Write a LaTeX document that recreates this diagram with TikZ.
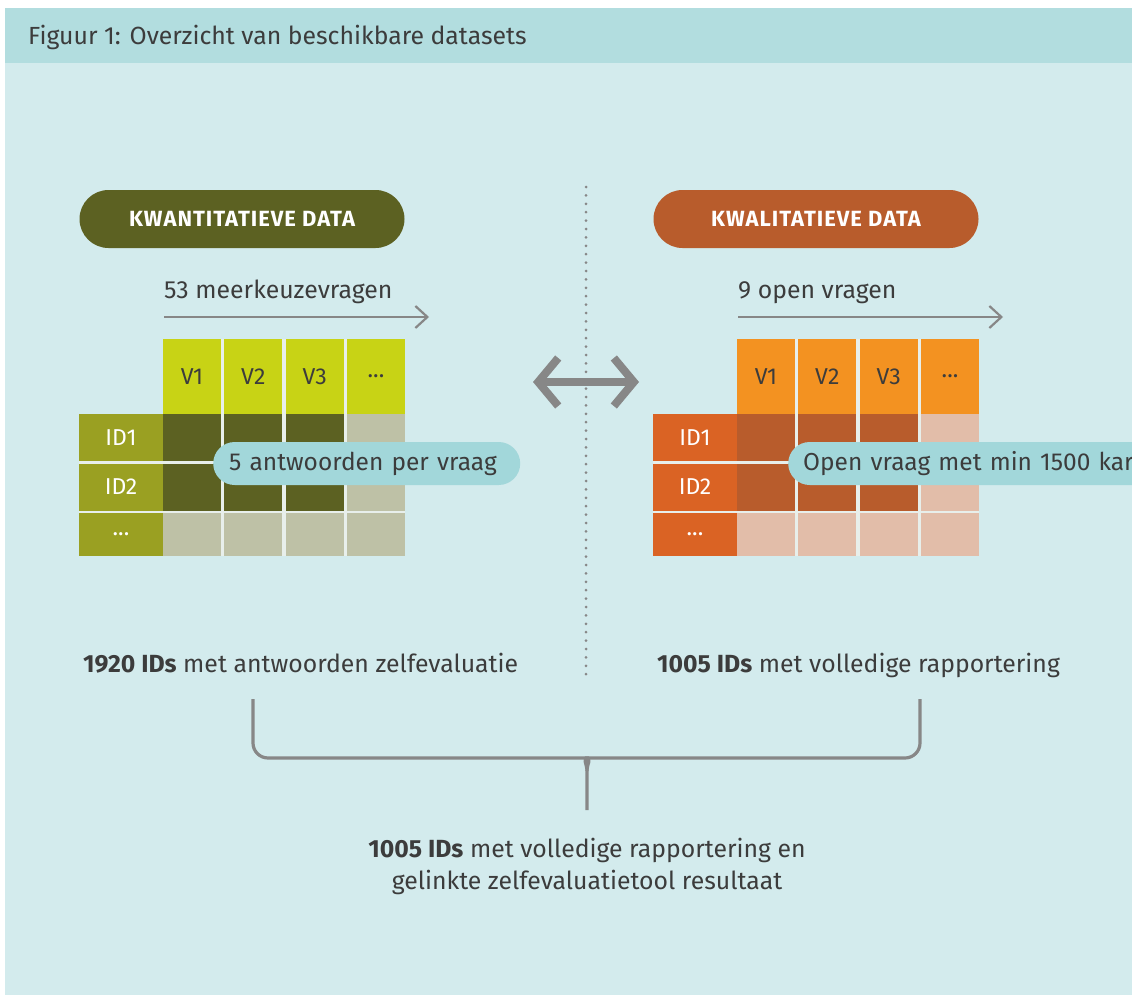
\documentclass[tikz,border=0pt]{standalone}
\usepackage{fontspec}
\setmainfont{Fira Sans}
\usetikzlibrary{arrows.meta}
\definecolor{bgc}{HTML}{D3EBED}
\definecolor{hdr}{HTML}{B2DDDF}
\definecolor{txt}{HTML}{3C3C3C}
\definecolor{gry}{HTML}{878787}
\definecolor{gapc}{HTML}{E8EFEB}
\definecolor{callc}{HTML}{A2D7DA}
\definecolor{lV}{HTML}{C8D315}
\definecolor{lID}{HTML}{9AA022}
\definecolor{lD}{HTML}{5C6122}
\definecolor{lE}{HTML}{BEC1A6}
\definecolor{rV}{HTML}{F39221}
\definecolor{rID}{HTML}{DA6324}
\definecolor{rD}{HTML}{B85C2C}
\definecolor{rE}{HTML}{E2BDA9}
\tikzset{
  cellbox/.style={anchor=north west, inner sep=0pt, outer sep=0pt, minimum width=58, minimum height=47},
  vbox/.style={cellbox, minimum height=75, text=txt, font=\fontsize{23}{26}\selectfont},
  idbox/.style={cellbox, minimum width=84, text=white, font=\fontsize{23}{26}\selectfont},
  pillbox/.style={inner sep=0pt, minimum width=325, minimum height=58, rounded corners=29, text=white, font=\bfseries\fontsize{22}{26}\selectfont\addfontfeatures{LetterSpace=4.5}},
  callbox/.style={anchor=west, inner sep=0pt, minimum height=43, rounded corners=21.5, fill=callc, text=txt, font=\fontsize{24.5}{28}\selectfont},
  plain/.style={text=txt, inner sep=0pt, font=\fontsize{24.8}{32}\selectfont},
  thinarrow/.style={draw=gry, line width=2.2, -{Straight Barb[length=12,width=22]}},
  bracepath/.style={draw=gry, line width=3.2},
}
\begin{document}
\begin{tikzpicture}[x=1pt,y=-1pt]
\useasboundingbox (0,0) rectangle (1132,998);
\fill[white] (0,0) rectangle (1132,998);
\begin{scope}
\clip (0,0) rectangle (1132,998);
\fill[bgc] (5,63) rectangle (1132,995);
\fill[hdr] (5,8) rectangle (1132,63);
\node[anchor=base west, text=txt, inner sep=0pt, font=\fontsize{24.8}{28}\selectfont] (title) at (28,45) {Figuur 1: Overzicht van beschikbare datasets};

% pills
\node[pillbox, fill=lD] (lpill) at (242,219) {KWANTITATIEVE DATA};
\node[pillbox, fill=rD] (rpill) at (816,219) {KWALITATIEVE DATA};

% dotted divider
\coordinate (dtop) at (586,187);
\coordinate (dbot) at (586,682);
\draw[gry, line width=3, line cap=round, dash pattern=on 0pt off 8.4pt] (dtop) -- (dbot);

% column arrows
\node[plain, anchor=base west] (lq) at (164,298) {53 meerkeuzevragen};
\coordinate (la1) at (164,317);
\coordinate (la2) at (429,317);
\draw[thinarrow] (la1) -- (la2);
\node[plain, anchor=base west] (rq) at (738,298) {9 open vragen};
\coordinate (ra1) at (738,317);
\coordinate (ra2) at (1003,317);
\draw[thinarrow] (ra1) -- (ra2);

% double arrow
\coordinate (dl) at (533,382);
\coordinate (dr) at (639,382);
\draw[gry, line width=8, {Straight Barb[length=20,width=48]}-{Straight Barb[length=20,width=48]}] (dl) -- (dr);

% tables
\foreach \s/\V/\I/\D/\E/\p in {0/lV/lID/lD/lE/l, 574/rV/rID/rD/rE/r}{
  \begin{scope}[xshift=\s]
    \fill[gapc] (163,339) rectangle (405,556);
    \fill[gapc] (79,414) rectangle (163,556);
    \node[vbox, fill=\V] (\p v1) at (163,339) {V1};
    \node[vbox, fill=\V] (\p v2) at (224.3,339) {V2};
    \node[vbox, fill=\V] (\p v3) at (285.7,339) {V3};
    \node[vbox, fill=\V] (\p v4) at (347,339) {...};
    \node[idbox, fill=\I] (\p id1) at (79,414) {ID1};
    \node[idbox, fill=\I] (\p id2) at (79,463.5) {ID2};
    \node[idbox, fill=\I, minimum height=43] (\p id3) at (79,513) {...};
    \foreach \x/\c in {163/1,224.3/2,285.7/3}{
      \node[cellbox, fill=\D] (\p a\c) at (\x,414) {};
      \node[cellbox, fill=\D] (\p b\c) at (\x,463.5) {};
      \node[cellbox, fill=\E, minimum height=43] (\p c\c) at (\x,513) {};
    }
    \node[cellbox, fill=\E] (\p a4) at (347,414) {};
    \node[cellbox, fill=\E] (\p b4) at (347,463.5) {};
    \node[cellbox, fill=\E, minimum height=43] (\p c4) at (347,513) {};
  \end{scope}
}

% callouts
\node[callbox, minimum width=307, text width=291, align=left] (lcall) at (213,463.5) {\hspace*{8pt}5 antwoorden per vraag};
\node[callbox, minimum width=400, text width=384, align=left] (rcall) at (788,463.5) {\hspace*{7pt}Open vraag met min 1500 kar};

% bottom labels
\node[plain, anchor=base west] (lres) at (83,672) {\textbf{1920 IDs} met antwoorden zelfevaluatie};
\node[plain, anchor=base west] (rres) at (657,672) {\textbf{1005 IDs} met volledige rapportering};

% brace
\coordinate (bl) at (253,699);
\coordinate (br) at (920,699);
\coordinate (bs) at (587,810);
\draw[bracepath, rounded corners=15] (bl) -- (253,758) -- (574,758) [sharp corners] .. controls (581.5,758) and (587,763.5) .. (587,771) -- (bs);
\draw[bracepath, rounded corners=15] (br) -- (920,758) -- (600,758) [sharp corners] .. controls (592.5,758) and (587,763.5) .. (587,771);

\node[plain, anchor=north, align=center] (total) at (587,838) {\textbf{1005 IDs} met volledige rapportering en\\gelinkte zelfevaluatietool resultaat};
\end{scope}
\end{tikzpicture}
\end{document}
